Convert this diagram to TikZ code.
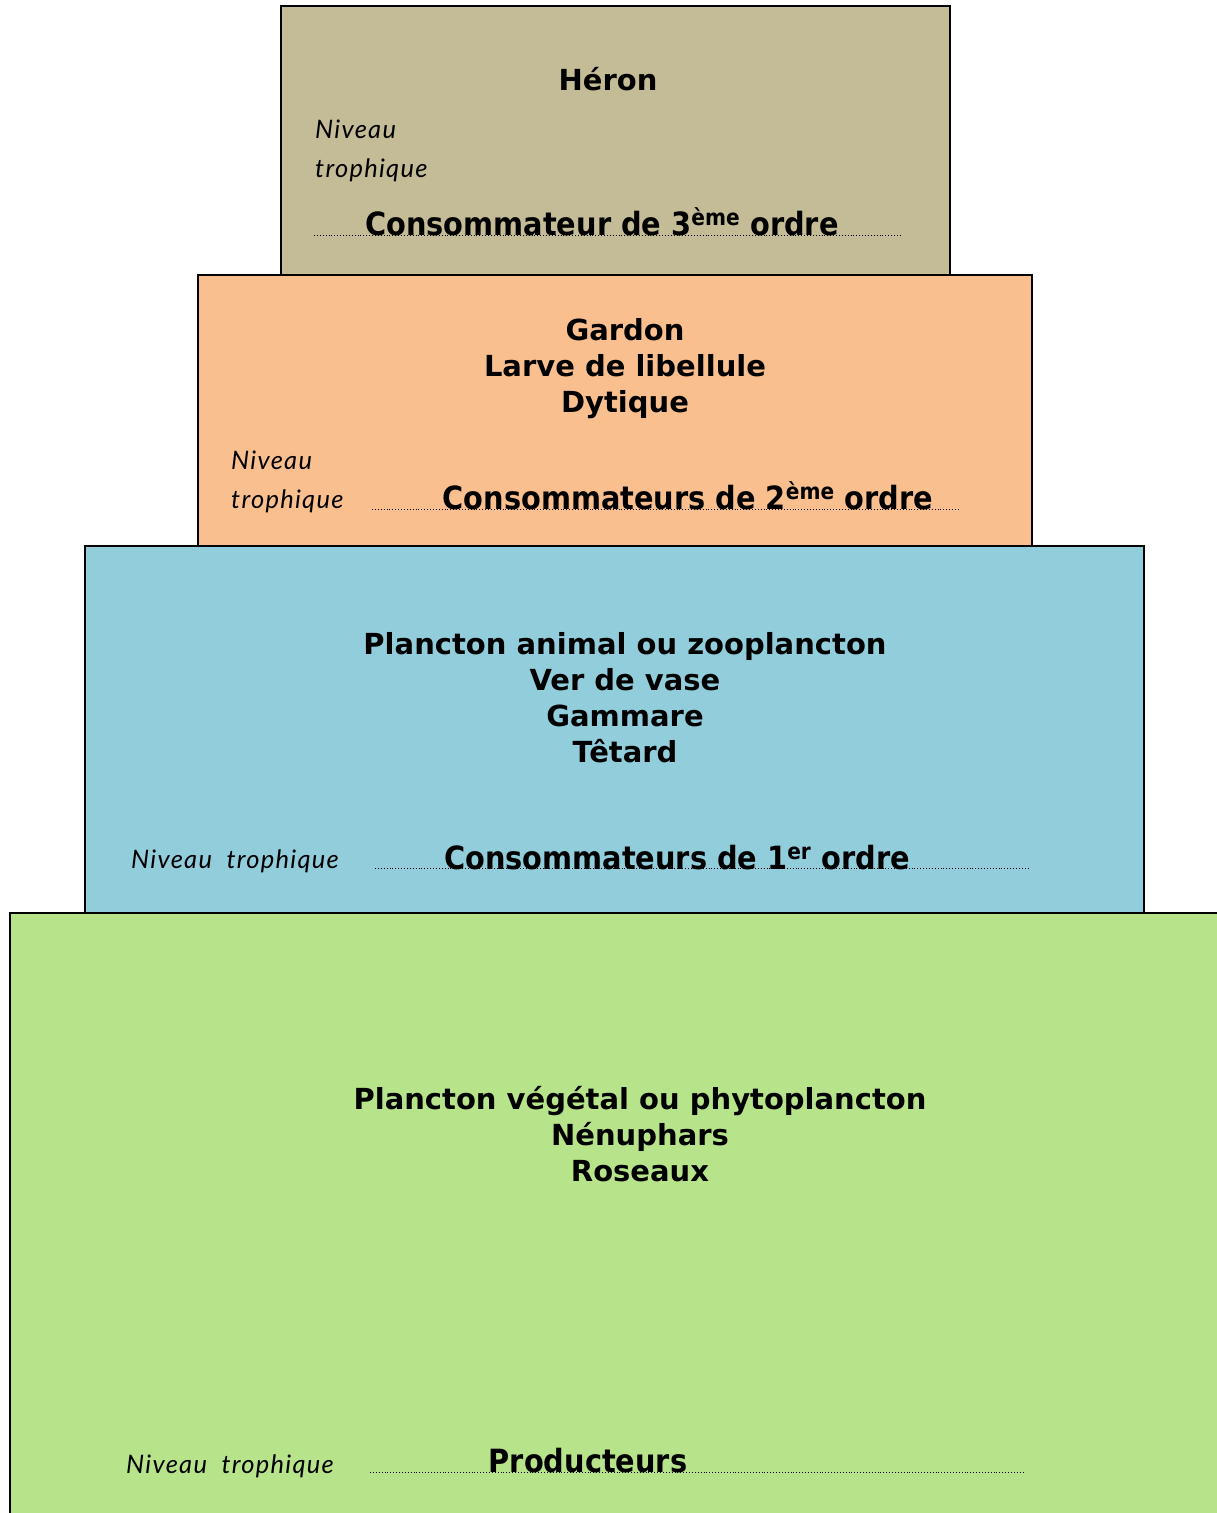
\documentclass[tikz,border=0pt]{standalone}
\usepackage{fontspec}
\setmainfont{DejaVu Sans}
\newfontfamily\condfont{DejaVu Sans Condensed}
\newfontfamily\handfont[LetterSpace=5]{Lato}
\usetikzlibrary{positioning}

\definecolor{heron}{HTML}{C4BC96}
\definecolor{ordre2}{HTML}{FABF8F}
\definecolor{ordre1}{HTML}{92CDDC}
\definecolor{prod}{HTML}{B7E48A}

\begin{document}
\begin{tikzpicture}[x=1pt,y=-1pt,
  niveau/.style={draw=black,line width=1.4pt},
  especes/.style={font=\fontsize{29}{36}\selectfont\bfseries,align=center},
  troph/.style={font=\fontsize{25.5}{39}\selectfont\handfont\itshape,align=left,anchor=west,inner sep=0pt},
  ordre/.style={font=\fontsize{32}{34}\selectfont\condfont\bfseries,anchor=base,inner sep=0pt},
  pointilles/.style={dotted,line width=0.9pt}]
\useasboundingbox (0,0) rectangle (1217,1513);

% Niveaux de la pyramide
\draw[niveau,fill=heron] (281,6) rectangle (950,275);
\draw[niveau,fill=ordre2] (198,275) rectangle (1032,546);
\draw[niveau,fill=ordre1] (85,546) rectangle (1144,913);
\draw[niveau,fill=prod] (10,913) rectangle (1230,1530);

% Consommateur de 3eme ordre
\node[especes] (heron) at (608,79) {Héron};
\node[troph] (t3) at (315,151) {Niveau\\trophique};
\draw[pointilles] (314,235) -- (900,235);
\node[ordre] (o3) at (602,235) {Consommateur de 3\textsuperscript{ème} ordre};

% Consommateurs de 2eme ordre
\node[especes] (c2) at (625,369) {Gardon\\Larve de libellule\\Dytique};
\node[troph] (t2) at (231,482) {Niveau\\trophique};
\draw[pointilles] (372,509) -- (960,509);
\node[ordre] (o2) at (688,509) {Consommateurs de 2\textsuperscript{ème} ordre};

% Consommateurs de 1er ordre
\node[especes] (c1) at (625,698) {Plancton animal ou zooplancton\\Ver de vase\\Gammare\\Têtard};
\node[troph] (t1) at (131,861) {Niveau\ \ trophique};
\draw[pointilles] (375,868) -- (1028,868);
\node[ordre] (o1) at (677,869) {Consommateurs de 1\textsuperscript{er} ordre};

% Producteurs
\node[especes] (p) at (640,1134) {Plancton végétal ou phytoplancton\\Nénuphars\\Roseaux};
\node[troph] (tp) at (126,1466) {Niveau\ \ trophique};
\draw[pointilles] (370,1472) -- (1023,1472);
\node[ordre] (op) at (588,1472) {Producteurs};

\end{tikzpicture}
\end{document}
